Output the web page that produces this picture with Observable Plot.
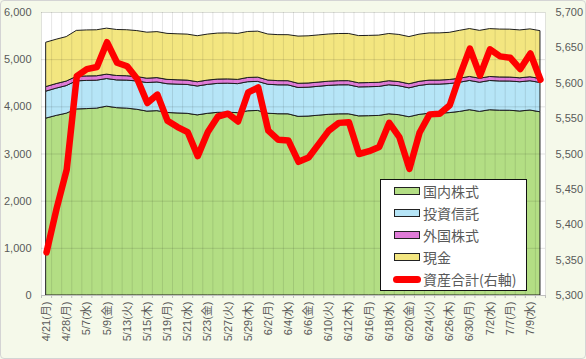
<!DOCTYPE html>
<html><head><meta charset="utf-8">
<script src="https://cdn.jsdelivr.net/npm/d3@7"></script>
<script src="https://cdn.jsdelivr.net/npm/@observablehq/plot@0.6"></script>
<style>
html,body{margin:0;padding:0;background:#fff;}
#chart{position:relative;width:586px;height:359px;background:#f5f9ea;overflow:hidden;}
#chart svg{position:absolute;left:0;top:0;}
#border{position:absolute;left:0;top:0;width:584px;height:357px;border:1px solid #d4d4d4;border-radius:4px;pointer-events:none;}
#legend{position:absolute;left:380px;top:179px;width:145px;height:110px;background:#fff;border:1px solid #111;
  font-family:'Noto Sans CJK JP','Liberation Sans',sans-serif;font-size:14px;color:#595959;}
.row{position:absolute;left:0;height:22px;display:flex;align-items:center;}
.sw{position:absolute;left:13px;width:24px;height:6px;border:1px solid #222;}
.ln{position:absolute;left:12px;width:28px;height:7px;border-radius:4px;background:#ff0000;}
.lt{position:absolute;left:42px;white-space:nowrap;line-height:22px;}
</style></head>
<body>
<div id="chart"><div id="border"></div></div>
<script>
const categories = ["4/21(月)","4/24(木)","4/28(月)","5/1(木)","5/7(水)","5/8(木)","5/9(金)","5/12(月)","5/13(火)","5/14(水)",
"5/15(木)","5/16(金)","5/19(月)","5/20(火)","5/21(水)","5/22(木)","5/23(金)","5/26(月)","5/27(火)","5/28(水)",
"5/29(木)","5/30(金)","6/2(月)","6/3(火)","6/4(水)","6/5(木)","6/6(金)","6/9(月)","6/10(火)","6/11(水)",
"6/12(木)","6/13(金)","6/16(月)","6/17(火)","6/18(水)","6/19(木)","6/20(金)","6/23(月)","6/24(火)","6/25(水)",
"6/26(木)","6/27(金)","6/30(月)","7/1(火)","7/2(水)","7/4(金)","7/7(月)","7/8(火)","7/9(水)","7/10(木)"];

const domestic = [3752,3808,3855,3945,3952,3962,4004,3972,3962,3938,3899,3909,3870,3860,3852,3819,3852,3873,3876,3866,
3906,3913,3854,3843,3842,3788,3794,3812,3831,3841,3842,3798,3802,3807,3842,3823,3780,3829,3855,3856,
3867,3892,3929,3893,3928,3918,3917,3901,3922,3885];
const fund = [572,578,585,595,598,592,585,588,594,600,605,608,610,611,612,612,613,614,615,615,
616,616,614,613,613,612,612,613,614,615,615,614,614,615,615,614,612,614,615,615,
616,618,620,618,620,620,620,620,621,621];
const foreign = [97,97,96,95,95,94,94,94,93,93,93,92,92,92,92,91,91,91,91,90,
90,90,90,89,89,89,89,89,88,88,88,88,88,88,87,87,87,87,86,86,
86,86,85,85,85,85,84,84,84,84];
const cash = [940,940,942,975,975,975,975,975,975,975,975,975,975,975,975,975,975,975,975,975,
975,975,975,975,975,1000,1000,1000,1000,1000,1000,1000,1000,1000,1000,1000,1000,1000,1000,1000,
1000,1015,1015,1015,1015,1015,1015,1015,1015,1015];
const total = [5361,5423,5478,5610,5620,5623,5658,5629,5624,5606,5572,5584,5547,5538,5531,5497,5531,5553,5557,5546,
5587,5594,5533,5520,5519,5489,5495,5514,5533,5544,5545,5500,5504,5510,5544,5524,5479,5530,5556,5557,
5569,5611,5649,5611,5648,5638,5636,5620,5642,5605];

const seriesNames = ["国内株式","投資信託","外国株式","現金"];
const seriesColors = ["#b3de84","#b6e5f7","#e07bd8","#f3e680"];
const lineName = "資産合計(右軸)";
const lineColor = "#ff0000";
const leftTicks = [0,1000,2000,3000,4000,5000,6000];
const rightTicks = [5300,5350,5400,5450,5500,5550,5600,5650,5700];

const leftMax = leftTicks[leftTicks.length-1];
const rMin = rightTicks[0], rMax = rightTicks[rightTicks.length-1];
const toLeft = v => (v - rMin) / (rMax - rMin) * leftMax;
const fromLeft = t => rMin + t / leftMax * (rMax - rMin);
const fmt = d3.format(",");

const seriesValues = [domestic, fund, foreign, cash];
const stacked = seriesNames.flatMap((s,k) => seriesValues[k].map((v,i) => ({i, s, v})));
const lineData = total.map((v,i) => ({i, v}));
const n = categories.length;
const boundaries = d3.range(-0.5, n, 1);
const labelIdx = d3.range(0, n, 2);

const chart = Plot.plot({
  width: 586, height: 359,
  marginTop: 12, marginBottom: 64, marginLeft: 41, marginRight: 41,
  x: {type: "linear", domain: [-0.5, n - 0.5]},
  y: {domain: [0, leftMax]},
  color: {domain: seriesNames, range: seriesColors},
  style: {background: "transparent", fontFamily: "'Liberation Sans','Noto Sans CJK JP',sans-serif", fontSize: "11px", color: "#595959"},
  marks: [
    Plot.frame({fill: "white", stroke: null}),
    Plot.areaY(stacked, {x: "i", y: "v", z: "s", fill: "s", order: seriesNames, stroke: "#1e1e1e", strokeWidth: 1}),
    Plot.gridX({ticks: boundaries, stroke: "#000", strokeOpacity: 0.1}),
    Plot.gridY({ticks: leftTicks, stroke: "#000", strokeOpacity: 0.12}),
    Plot.ruleY([0], {stroke: "#bfbfbf"}),
    Plot.axisY({ticks: leftTicks, tickFormat: t => fmt(t), tickSize: 0, tickPadding: 10, label: null}),
    Plot.axisY({anchor: "right", ticks: rightTicks.map(toLeft), tickFormat: t => fmt(Math.round(fromLeft(t))), tickSize: 0, tickPadding: 10, label: null}),
    Plot.axisX({ticks: boundaries, tickFormat: () => "", tickSize: 3, stroke: "#bfbfbf", label: null}),
    Plot.axisX({ticks: labelIdx, tickFormat: i => categories[i], tickRotate: -90, tickSize: 0, tickPadding: 6, label: null}),
    Plot.lineY(lineData, {x: "i", y: d => toLeft(d.v), stroke: lineColor, strokeWidth: 6.5, strokeLinejoin: "round", strokeLinecap: "round"})
  ]
});
const host = document.getElementById("chart");
host.insertBefore(chart, host.firstChild);

const legend = document.createElement("div");
legend.id = "legend";
seriesNames.forEach((s,k) => {
  const r = document.createElement("div");
  r.className = "row"; r.style.top = (k*22) + "px";
  r.innerHTML = `<span class="sw" style="background:${seriesColors[k]};top:7px"></span><span class="lt">${s}</span>`;
  legend.appendChild(r);
});
const r = document.createElement("div");
r.className = "row"; r.style.top = (4*22) + "px";
r.innerHTML = `<span class="ln" style="top:8px"></span><span class="lt">${lineName}</span>`;
legend.appendChild(r);
host.appendChild(legend);
</script>
</body></html>
